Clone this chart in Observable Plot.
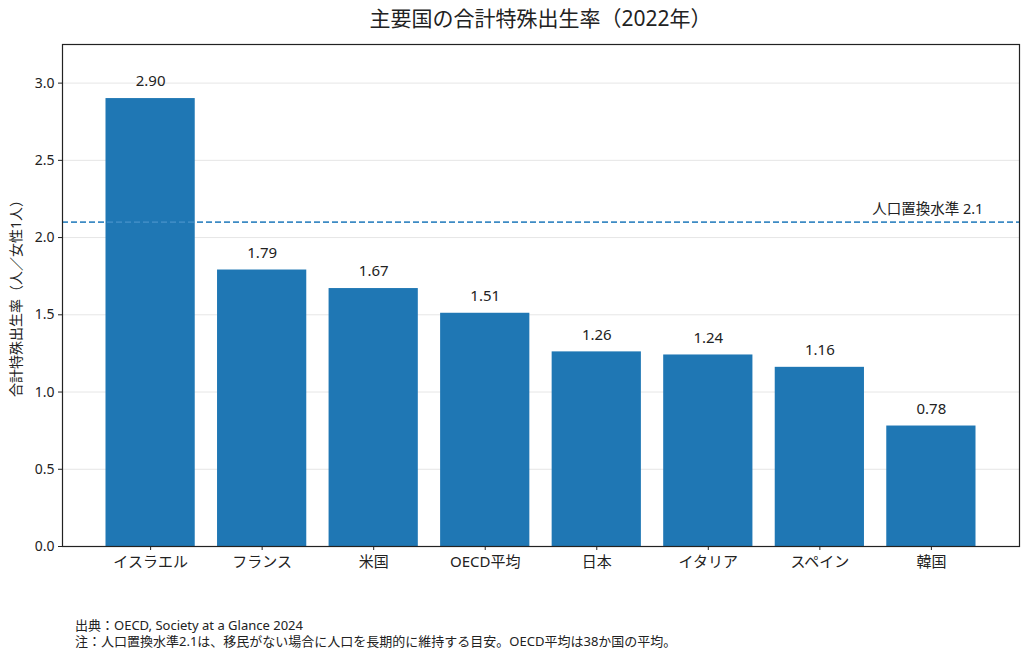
<!DOCTYPE html>
<html>
<head>
<meta charset="utf-8">
<script src="https://cdn.jsdelivr.net/npm/d3@7"></script>
<script src="https://cdn.jsdelivr.net/npm/@observablehq/plot@0.6"></script>
<style>
  html, body { margin: 0; padding: 0; background: #fff; }
  body { width: 1024px; height: 649px; overflow: hidden; font-family: "Noto Sans", "Noto Sans CJK JP", sans-serif; color: #222; }
  #title { height: 36px; line-height: 36px; text-align: center; font-size: 21px; margin-left: 62px; width: 957px; }
  #caption { font-size: 13px; line-height: 16px; padding-left: 75px; margin-top: 9px; color: #222; white-space: nowrap; }
  svg { display: block; }
</style>
</head>
<body>
<div id="title">主要国の合計特殊出生率（2022年）</div>
<div id="chart"></div>
<div id="caption">
  <div>出典：OECD, Society at a Glance 2024</div>
  <div>注：人口置換水準2.1は、移民がない場合に人口を長期的に維持する目安。OECD平均は38か国の平均。</div>
</div>
<script>
const countries = ["イスラエル", "フランス", "米国", "OECD平均", "日本", "イタリア", "スペイン", "韓国"];
const rates = [2.90, 1.79, 1.67, 1.51, 1.26, 1.24, 1.16, 0.78];
const replacementLevel = 2.1;
const replacementLabel = "人口置換水準 2.1";
const yTicks = [0, 0.5, 1.0, 1.5, 2.0, 2.5, 3.0];

const data = countries.map((c, i) => ({country: c, rate: rates[i]}));
const font = "'Noto Sans', 'Noto Sans CJK JP', sans-serif";

const chart = Plot.plot({
  width: 1024,
  height: 572,
  marginLeft: 62,
  marginRight: 5,
  marginTop: 8,
  marginBottom: 62,
  style: {fontFamily: font, fontSize: "14px", color: "#222", background: "#fff"},
  x: {domain: countries, paddingInner: 0.2, paddingOuter: 0.39, round: false, label: null, tickSize: 4, tickPadding: 6},
  y: {domain: [0, 3.25], ticks: yTicks, tickFormat: d3.format(".1f"), label: null, tickSize: 4, tickPadding: 4},
  marks: [
    Plot.gridY(yTicks, {stroke: "#e6e6e6", strokeOpacity: 1, strokeWidth: 1}),
    Plot.barY(data, {x: "country", y: "rate", fill: "#1f77b4"}),
    Plot.ruleY([replacementLevel], {stroke: "#3d8bc4", strokeWidth: 1.6, strokeDasharray: "6,3"}),
    Plot.text([replacementLabel], {x: () => countries[countries.length - 1], y: replacementLevel, text: d => d, textAnchor: "end", dx: 52, dy: -13, fontSize: 14.5, fill: "#222"}),
    Plot.text(data, {x: "country", y: "rate", text: d => d.rate.toFixed(2), dy: -17, fontSize: 15, fill: "#222"}),
    Plot.axisX({tickSize: 4, tickPadding: 6, fontSize: 15, label: null}),
    Plot.axisY(yTicks, {tickSize: 4, tickPadding: 4, tickFormat: d3.format(".1f"), fontSize: 14, label: null}),
    Plot.frame({stroke: "#222", strokeWidth: 1.2})
  ]
});

const svg = d3.select(chart);
svg.append("text")
  .attr("transform", `translate(17, ${(8 + 510) / 2}) rotate(-90)`)
  .attr("text-anchor", "middle")
  .attr("dominant-baseline", "middle")
  .attr("font-size", 14)
  .attr("fill", "#222")
  .text("合計特殊出生率（人／女性1人）");

document.getElementById("chart").appendChild(chart);
</script>
</body>
</html>
